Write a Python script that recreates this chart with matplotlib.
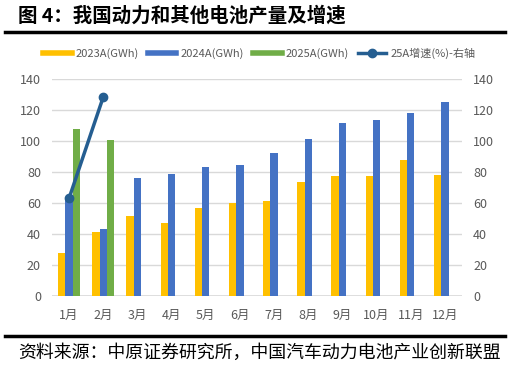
import matplotlib
matplotlib.use("Agg")
import matplotlib.pyplot as plt
import numpy as np
from matplotlib.lines import Line2D

plt.rcParams['font.family'] = ['Noto Sans CJK SC', 'DejaVu Sans']

months = ["1月", "2月", "3月", "4月", "5月", "6月", "7月", "8月", "9月", "10月", "11月", "12月"]
v2023 = [28, 41.5, 51.4, 47, 56.8, 60.2, 61.3, 73.3, 77.4, 77.4, 87.7, 77.8]
v2024 = [62, 43.2, 76, 78.3, 82.8, 84.5, 92, 101.3, 111.2, 113.1, 118, 124.7]
v2025 = [107.7, 100.6]
growth25 = [63, 128.2]

c23 = "#FFC000"
c24 = "#4472C4"
c25 = "#70AD47"
cline = "#255E91"

fig = plt.figure(figsize=(5.10, 3.68), dpi=100)
ax = fig.add_axes([52/510, (368-296)/368, (462-52)/510, (296-78.7)/368])
ax2 = ax.twinx()

x = np.arange(len(months))
w = 0.215
ax.bar(x - w, v2023, w, color=c23, zorder=3)
ax.bar(x, v2024, w, color=c24, zorder=3)
ax.bar(x[:len(v2025)] + w, v2025, w, color=c25, zorder=3)

ax2.plot(x[:len(growth25)], growth25, color=cline, lw=2.5, marker='o', ms=6, zorder=5)

for a in (ax, ax2):
    a.set_ylim(0, 140)
    a.set_yticks(range(0, 141, 20))
    for s in a.spines.values():
        s.set_visible(False)
    a.tick_params(axis='y', length=0, labelsize=9, colors='#595959', pad=8)
ax.set_xlim(-0.5, 11.5)
ax.set_xticks(x)
ax.set_xticklabels(months)
ax.tick_params(axis='x', length=0, labelsize=9, colors='#595959', pad=9)
ax.yaxis.grid(True, color='#D9D9D9', lw=1, zorder=0)
ax.set_axisbelow(True)
ax.axhline(0, color='#D9D9D9', lw=1.2, zorder=1)
ax.set_zorder(ax2.get_zorder() - 1)
ax.patch.set_visible(False)
ax2.patch.set_visible(False)

handles = [
    Line2D([0], [0], color=c23, lw=4),
    Line2D([0], [0], color=c24, lw=4),
    Line2D([0], [0], color=c25, lw=4),
    Line2D([0], [0], color=cline, lw=2.5, marker='o', ms=6),
]
labels = ["2023A(GWh)", "2024A(GWh)", "2025A(GWh)", "25A增速(%)-右轴"]
fig.legend(handles, labels, loc='center', bbox_to_anchor=(0.508, 1 - 53/368), ncol=4,
           frameon=False, fontsize=8, handlelength=2.6, handletextpad=0.35,
           columnspacing=0.8, labelcolor='#595959')

fig.text(18/510, 1 - 16/368, "图 4：我国动力和其他电池产量及增速", fontsize=14, fontweight='bold',
         va='center', ha='left', color='black')
fig.add_artist(Line2D([5/510, 505/510], [1 - 32/368, 1 - 32/368], color='black', lw=2.5))
fig.add_artist(Line2D([5/510, 505/510], [1 - 336/368, 1 - 336/368], color='black', lw=2.5))
fig.text(18/510, 1 - 353/368, "资料来源：中原证券研究所，中国汽车动力电池产业创新联盟", fontsize=12.9,
         va='center', ha='left', color='black')

fig.savefig("out.png", dpi=100)
